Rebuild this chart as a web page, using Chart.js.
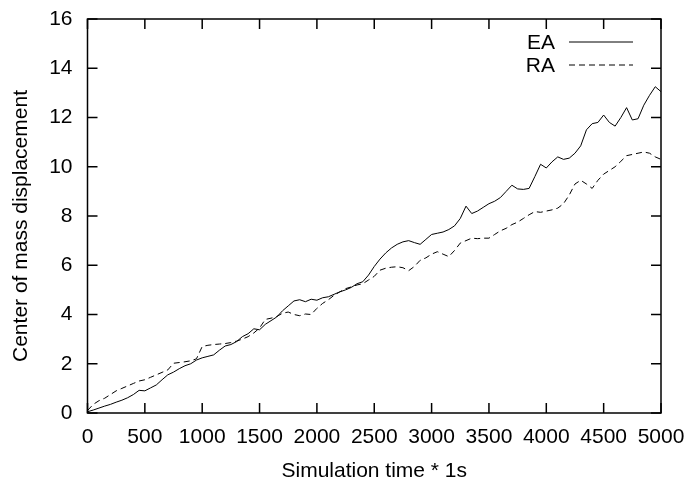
<!DOCTYPE html>
<html>
<head>
<meta charset="utf-8">
<script src="https://cdn.jsdelivr.net/npm/chart.js@4/dist/chart.umd.min.js"></script>
<style>
  body { margin: 0; background: #fff; }
  canvas { display: block; }
</style>
</head>
<body>
<canvas id="comChart" width="687" height="480"></canvas>
<script>
// simulation time steps
const timeSteps = [
  0, 50, 100, 150, 200, 250, 300, 350, 400, 450,
  500, 550, 600, 650, 700, 750, 800, 850, 900, 950,
  1000, 1050, 1100, 1150, 1200, 1250, 1300, 1350, 1400, 1450,
  1500, 1550, 1600, 1650, 1700, 1750, 1800, 1850, 1900, 1950,
  2000, 2050, 2100, 2150, 2200, 2250, 2300, 2350, 2400, 2450,
  2500, 2550, 2600, 2650, 2700, 2750, 2800, 2850, 2900, 2950,
  3000, 3050, 3100, 3150, 3200, 3250, 3300, 3350, 3400, 3450,
  3500, 3550, 3600, 3650, 3700, 3750, 3800, 3850, 3900, 3950,
  4000, 4050, 4100, 4150, 4200, 4250, 4300, 4350, 4400, 4450,
  4500, 4550, 4600, 4650, 4700, 4750, 4800, 4850, 4900, 4950,
  5000
];

const eaValues = [
  0.05, 0.12, 0.2, 0.28, 0.35, 0.44, 0.52, 0.62, 0.75, 0.92,
  0.9, 1.02, 1.14, 1.35, 1.55, 1.66, 1.8, 1.92, 2.0, 2.15,
  2.24, 2.3, 2.36, 2.55, 2.72, 2.78, 2.9, 3.1, 3.22, 3.42,
  3.38, 3.6, 3.75, 3.9, 4.15, 4.35, 4.55, 4.6, 4.52, 4.62,
  4.58, 4.68, 4.72, 4.82, 4.92, 5.0, 5.1, 5.25, 5.33, 5.6,
  5.95, 6.25, 6.5, 6.7, 6.85, 6.95, 7.0, 6.92, 6.85, 7.05,
  7.25, 7.3, 7.35, 7.45, 7.6, 7.9, 8.4, 8.1, 8.2, 8.35,
  8.5, 8.6, 8.75, 9.0, 9.25, 9.1, 9.08, 9.12, 9.6, 10.1,
  9.95, 10.2, 10.4, 10.3, 10.35, 10.55, 10.85, 11.5, 11.75, 11.8,
  12.1, 11.8, 11.65, 12.0, 12.4, 11.9, 11.95, 12.5, 12.9, 13.25,
  13.05
];

const raValues = [
  0.1, 0.35, 0.5, 0.6, 0.75, 0.9, 1.0, 1.1, 1.2, 1.3,
  1.35, 1.45, 1.55, 1.65, 1.75, 2.02, 2.05, 2.08, 2.12, 2.2,
  2.7, 2.75, 2.78, 2.8, 2.82, 2.86, 2.92, 3.0, 3.1, 3.25,
  3.45, 3.8, 3.85, 3.92, 4.05, 4.1, 4.0, 3.95, 4.02, 4.0,
  4.25, 4.45, 4.6, 4.78, 4.92, 5.05, 5.12, 5.2, 5.25, 5.4,
  5.55, 5.8, 5.88, 5.92, 5.94, 5.9, 5.78, 5.95, 6.2, 6.3,
  6.45, 6.55, 6.45, 6.35, 6.6, 6.9, 7.0, 7.1, 7.08, 7.1,
  7.1, 7.25, 7.4, 7.5, 7.65, 7.75, 7.9, 8.05, 8.18, 8.15,
  8.2, 8.25, 8.32, 8.5, 8.85, 9.3, 9.45, 9.3, 9.12, 9.45,
  9.7, 9.85, 10.0, 10.22, 10.45, 10.5, 10.55, 10.6, 10.55, 10.4,
  10.3
];

const xTicks = [0, 500, 1000, 1500, 2000, 2500, 3000, 3500, 4000, 4500, 5000];
const yTicks = [0, 2, 4, 6, 8, 10, 12, 14, 16];
const seriesNames = ['EA', 'RA'];
const yTitle = 'Center of mass displacement';

const fontFamily = '"Liberation Sans", Arial, Helvetica, sans-serif';
Chart.defaults.font.family = fontFamily;
Chart.defaults.color = '#000';

// gnuplot style: frame, inward ticks on all sides, legend at top right
const gnuplotFrame = {
  id: 'gnuplotFrame',
  afterDatasetsDraw(chart) {
    const { ctx, chartArea: a, scales: { x, y } } = chart;
    ctx.save();
    ctx.strokeStyle = '#000';
    ctx.lineWidth = 1.5;
    ctx.beginPath();
    xTicks.forEach(v => {
      const px = x.getPixelForValue(v);
      ctx.moveTo(px, a.bottom); ctx.lineTo(px, a.bottom - 10);
      ctx.moveTo(px, a.top); ctx.lineTo(px, a.top + 10);
    });
    yTicks.forEach(v => {
      const py = y.getPixelForValue(v);
      ctx.moveTo(a.left, py); ctx.lineTo(a.left + 10, py);
      ctx.moveTo(a.right, py); ctx.lineTo(a.right - 10, py);
    });
    ctx.stroke();
    ctx.strokeRect(a.left, a.top, a.right - a.left, a.bottom - a.top);

    ctx.font = '21px ' + fontFamily;
    ctx.fillStyle = '#000';

    // y axis title, gnuplot puts it a bit below the middle
    ctx.save();
    ctx.translate(21, (a.top + a.bottom) / 2 + 10);
    ctx.rotate(-Math.PI / 2);
    ctx.textAlign = 'center';
    ctx.textBaseline = 'middle';
    ctx.fillText(yTitle, 0, 0);
    ctx.restore();

    // legend
    ctx.textAlign = 'right';
    ctx.textBaseline = 'middle';
    ctx.lineWidth = 1;
    chart.data.datasets.forEach((ds, i) => {
      const ly = a.top + 23 + i * 23;
      ctx.fillText(ds.label, a.right - 106, ly + 1);
      ctx.setLineDash(ds.borderDash || []);
      ctx.beginPath();
      ctx.moveTo(a.right - 92, ly);
      ctx.lineTo(a.right - 28, ly);
      ctx.stroke();
    });
    ctx.restore();
  }
};

new Chart(document.getElementById('comChart'), {
  type: 'line',
  data: {
    datasets: [
      {
        label: seriesNames[0],
        data: timeSteps.map((t, i) => ({ x: t, y: eaValues[i] })),
        borderColor: '#000',
        borderWidth: 1,
        pointRadius: 0,
        tension: 0
      },
      {
        label: seriesNames[1],
        data: timeSteps.map((t, i) => ({ x: t, y: raValues[i] })),
        borderColor: '#000',
        borderWidth: 1,
        borderDash: [6, 4],
        pointRadius: 0,
        tension: 0
      }
    ]
  },
  options: {
    responsive: false,
    animation: false,
    layout: { padding: { top: 19, right: 26, left: 0, bottom: 0 } },
    plugins: {
      legend: { display: false },
      tooltip: { enabled: false }
    },
    scales: {
      x: {
        type: 'linear',
        min: 0,
        max: 5000,
        afterBuildTicks: s => { s.ticks = xTicks.map(v => ({ value: v })); },
        afterFit: s => { s.height = 67; s.paddingLeft = 0; s.paddingRight = 0; },
        grid: { display: false, drawTicks: false },
        border: { display: false },
        ticks: {
          font: { size: 21 },
          padding: 12,
          maxRotation: 0,
          autoSkip: false,
          callback: v => String(v)
        },
        title: {
          display: true,
          text: 'Simulation time * 1s',
          font: { size: 21, lineHeight: 0.8 },
          padding: { top: 0, bottom: 0 }
        }
      },
      y: {
        min: 0,
        max: 16,
        afterBuildTicks: s => { s.ticks = yTicks.map(v => ({ value: v })); },
        afterFit: s => { s.width = 87.5; s.paddingTop = 0; s.paddingBottom = 0; },
        grid: { display: false, drawTicks: false },
        border: { display: false },
        ticks: { font: { size: 21 }, padding: 15, callback: v => String(v) }
      }
    }
  },
  plugins: [gnuplotFrame]
});
</script>
</body>
</html>
